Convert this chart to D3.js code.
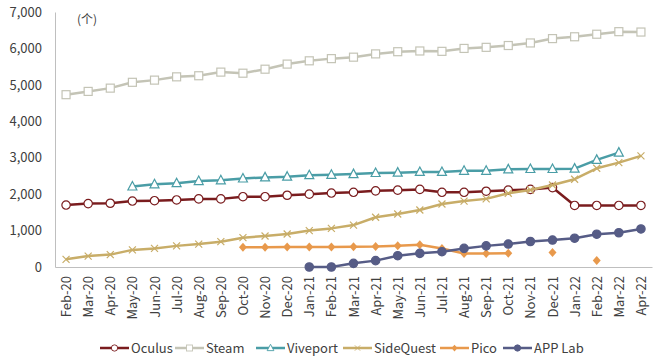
<!DOCTYPE html>
<html>
<head>
<meta charset="utf-8">
<script src="https://cdn.jsdelivr.net/npm/d3@7"></script>
<style>
  body { margin: 0; background: #fff; }
  text { font-family: "Noto Sans CJK SC", "Noto Sans", sans-serif; fill: #404040; }
</style>
</head>
<body>
<svg width="664" height="356"></svg>
<script>
// months on the x axis
var months = ["Feb-20","Mar-20","Apr-20","May-20","Jun-20","Jul-20","Aug-20","Sep-20","Oct-20","Nov-20","Dec-20",
  "Jan-21","Feb-21","Mar-21","Apr-21","May-21","Jun-21","Jul-21","Aug-21","Sep-21","Oct-21","Nov-21","Dec-21",
  "Jan-22","Feb-22","Mar-22","Apr-22"];

var yTicks = [0, 1000, 2000, 3000, 4000, 5000, 6000, 7000];

var oculus = [1700,1740,1750,1810,1820,1840,1870,1870,1930,1930,1970,2000,2030,2050,2090,2110,2130,2050,2050,2080,2110,2130,2180,1690,1690,1690,1690];
var steam = [4730,4820,4910,5070,5130,5220,5250,5350,5320,5430,5570,5660,5720,5760,5850,5910,5930,5920,6000,6030,6080,6150,6270,6320,6390,6460,6450];
var viveport = [null,null,null,2210,2270,2300,2360,2380,2430,2460,2480,2520,2530,2550,2580,2590,2610,2610,2640,2640,2680,2690,2690,2700,2940,3140,null];
var sidequest = [210,300,340,470,510,580,630,695,805,850,905,1000,1060,1150,1365,1455,1565,1730,1810,1870,2025,2115,2250,2410,2710,2865,3050];
var pico = [null,null,null,null,null,null,null,null,540,545,550,550,550,555,560,580,610,510,370,370,380,null,400,null,180,null,null];
var applab = [null,null,null,null,null,null,null,null,null,null,null,0,0,100,175,310,375,420,510,580,630,700,740,790,900,940,1045];

var series = [
  {name: "Oculus", values: oculus, color: "#7a1c1e", marker: "circle", fill: "#fff"},
  {name: "Steam", values: steam, color: "#c4c4b6", marker: "square", fill: "#fff"},
  {name: "Viveport", values: viveport, color: "#4a9da6", marker: "triangle", fill: "#fff"},
  {name: "SideQuest", values: sidequest, color: "#c8ad68", marker: "cross", fill: "none"},
  {name: "Pico", values: pico, color: "#e8994c", marker: "diamond", fill: "#e8994c"},
  {name: "APP Lab", values: applab, color: "#565c86", marker: "circle", fill: "#565c86"}
];

var svg = d3.select("svg"),
    margin = {top: 12, right: 12, bottom: 89, left: 55},
    width = +svg.attr("width") - margin.left - margin.right,
    height = +svg.attr("height") - margin.top - margin.bottom,
    g = svg.append("g").attr("transform", "translate(" + margin.left + "," + margin.top + ")");

var x = d3.scalePoint().domain(months).range([0, width]).padding(0.5);
var y = d3.scaleLinear().domain([0, 7000]).range([height, 0]);

// axes
var xAxis = g.append("g")
    .attr("transform", "translate(0," + height + ")")
    .call(d3.axisBottom(x).tickSize(0).tickPadding(8));
xAxis.select(".domain").attr("stroke", "#bfbfbf");
xAxis.selectAll("text")
    .attr("transform", "rotate(-90)")
    .attr("text-anchor", "end")
    .attr("x", -9)
    .attr("y", 0)
    .attr("dy", "0.35em")
    .style("font-size", "13px");

var yAxis = g.append("g")
    .call(d3.axisLeft(y).tickValues(yTicks).tickSize(0).tickPadding(13).tickFormat(d3.format(",")));
yAxis.select(".domain").attr("stroke", "#bfbfbf");
yAxis.selectAll("text").style("font-size", "13px");

g.append("text")
    .attr("x", 22)
    .attr("y", 12)
    .style("font-size", "12px")
    .text("(个)");

var line = d3.line()
    .defined(function(d) { return d != null; })
    .x(function(d, i) { return x(months[i]); })
    .y(function(d) { return y(d); });

function drawMarker(sel, s) {
  if (s.marker == "circle") {
    sel.append("circle").attr("r", 4.2)
      .attr("fill", s.fill).attr("stroke", s.color).attr("stroke-width", 1.2);
  } else if (s.marker == "square") {
    sel.append("rect").attr("x", -4).attr("y", -4).attr("width", 8).attr("height", 8)
      .attr("fill", s.fill).attr("stroke", s.color).attr("stroke-width", 1.2);
  } else if (s.marker == "triangle") {
    sel.append("path").attr("d", "M0,-5L4.5,3.5L-4.5,3.5Z")
      .attr("fill", s.fill).attr("stroke", s.color).attr("stroke-width", 1.2);
  } else if (s.marker == "cross") {
    sel.append("path").attr("d", "M-3.5,-3.5L3.5,3.5M-3.5,3.5L3.5,-3.5")
      .attr("fill", "none").attr("stroke", s.color).attr("stroke-width", 1.2);
  } else if (s.marker == "diamond") {
    sel.append("path").attr("d", "M0,-4.5L4,0L0,4.5L-4,0Z")
      .attr("fill", s.fill).attr("stroke", "none");
  }
}

series.forEach(function(s) {
  g.append("path")
    .datum(s.values)
    .attr("fill", "none")
    .attr("stroke", s.color)
    .attr("stroke-width", 2.5)
    .attr("stroke-linejoin", "round")
    .attr("d", line);

  s.values.forEach(function(v, i) {
    if (v == null) return;
    var m = g.append("g").attr("transform", "translate(" + x(months[i]) + "," + y(v) + ")");
    drawMarker(m, s);
  });
});

// legend
var legendX = [100, 175, 256, 343, 440, 503];
var legend = svg.append("g").attr("transform", "translate(0,348)");
series.forEach(function(s, i) {
  var item = legend.append("g").attr("transform", "translate(" + legendX[i] + ",0)");
  item.append("line").attr("x1", 0).attr("x2", 29).attr("y1", 0).attr("y2", 0)
    .attr("stroke", s.color).attr("stroke-width", 2.5);
  var m = item.append("g").attr("transform", "translate(14.5,0) scale(0.75)");
  drawMarker(m, s);
  item.append("text").attr("x", 31).attr("y", 0).attr("dy", "0.35em")
    .style("font-size", "13px").text(s.name);
});
</script>
</body>
</html>
